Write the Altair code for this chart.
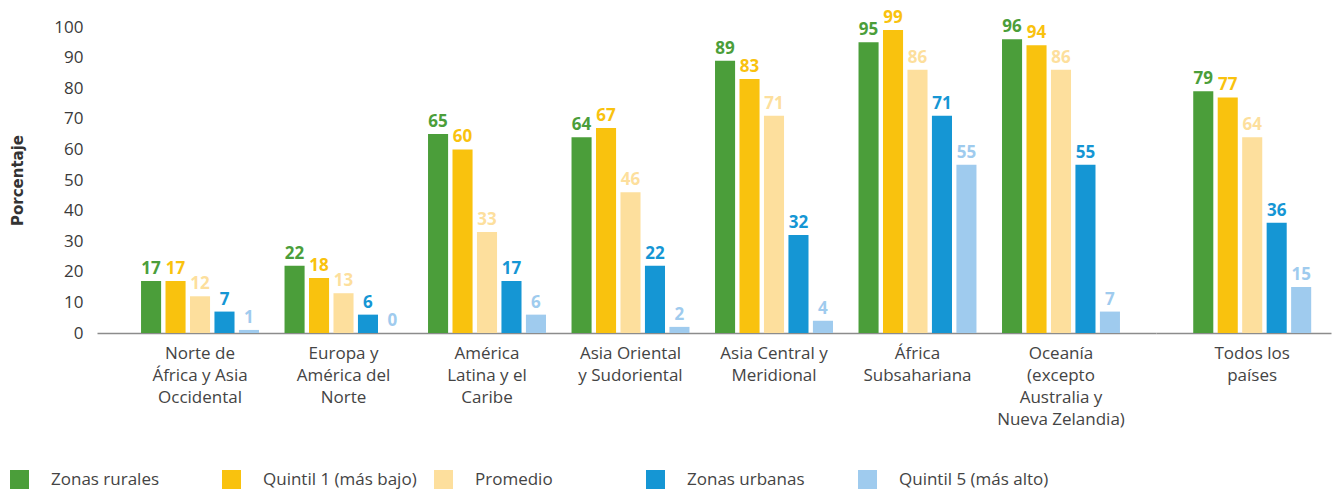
import altair as alt
import pandas as pd

# ---- data -------------------------------------------------------------
categories = [
    "Norte de\nÁfrica y Asia\nOccidental",
    "Europa y\nAmérica del\nNorte",
    "América\nLatina y el\nCaribe",
    "Asia Oriental\ny Sudoriental",
    "Asia Central y\nMeridional",
    "África\nSubsahariana",
    "Oceanía\n(excepto\nAustralia y\nNueva Zelandia)",
    "Todos los\npaíses",
]
series = ["Zonas rurales", "Quintil 1 (más bajo)", "Promedio",
          "Zonas urbanas", "Quintil 5 (más alto)"]
zonas_rurales = [17, 22, 65, 64, 89, 95, 96, 79]
quintil_1 = [17, 18, 60, 67, 83, 99, 94, 77]
promedio = [12, 13, 33, 46, 71, 86, 86, 64]
zonas_urbanas = [7, 6, 17, 22, 32, 71, 55, 36]
quintil_5 = [1, 0, 6, 2, 4, 55, 7, 15]
y_ticks = [0, 10, 20, 30, 40, 50, 60, 70, 80, 90, 100]

colors = ["#4b9e3a", "#f9c20e", "#fddf9d", "#1596d4", "#9fcbee"]
FONT = "Open Sans"
TITLE_FONT = "DejaVu Sans"

values = [zonas_rurales, quintil_1, promedio, zonas_urbanas, quintil_5]
rows = []
for ci, cat in enumerate(categories):
    for si, s in enumerate(series):
        rows.append({"region": cat, "serie": s, "valor": values[si][ci]})
df = pd.DataFrame(rows)

main_cats = categories[:-1]
total_cats = categories[-1:]

PLOT_H = 306


def panel(cats, width, pad_outer, align, show_y):
    data = df[df["region"].isin(cats)]
    base = alt.Chart(data)
    x = alt.X(
        "region:N",
        sort=cats,
        scale=alt.Scale(domain=cats, paddingInner=0.178,
                        paddingOuter=pad_outer, align=align),
        axis=alt.Axis(
            title=None, labelAngle=0, ticks=False,
            labelExpr="split(datum.label, '\\n')",
            labelFont=FONT, labelFontSize=17, labelColor="#444444",
            labelLineHeight=22, labelPadding=12, labelLimit=300,
            labelOverlap=False, labelBaseline="top",
            domainColor="#8c8c8c", domainWidth=1.5,
        ),
    )
    xo = alt.XOffset("serie:N", sort=series,
                     scale=alt.Scale(domain=series, paddingInner=0.18,
                                     paddingOuter=0))
    if show_y:
        yaxis = alt.Axis(
            title="Porcentaje", values=y_ticks, ticks=False, domain=False,
            grid=False, labelFont=FONT, labelFontSize=17,
            labelColor="#3a3a3a", labelPadding=14,
            titleFont=TITLE_FONT, titleFontSize=15, titleFontWeight="bold",
            titleColor="#333333", titlePadding=28,
        )
    else:
        yaxis = None
    y = alt.Y("valor:Q", scale=alt.Scale(domain=[0, 100], nice=False),
              axis=yaxis)
    color_scale = alt.Scale(domain=series, range=colors)
    bars = base.mark_bar().encode(
        x=x, xOffset=xo, y=y,
        color=alt.Color(
            "serie:N", sort=series, scale=color_scale,
            legend=alt.Legend(
                title=None, orient="none", legendX=-87, legendY=443,
                direction="horizontal", columns=5, gridAlign="all",
                symbolType="square", symbolSize=361, symbolStrokeWidth=0,
                symbolOpacity=1, labelFont=FONT, labelFontSize=17,
                labelColor="#444444", labelOffset=22, columnPadding=17,
                labelLimit=300,
            ),
        ),
    )
    labels = base.mark_text(
        baseline="alphabetic", dy=-7, fontWeight="bold", fontSize=17,
        font=FONT,
    ).encode(
        x=x, xOffset=xo, y=y,
        color=alt.Color("serie:N", sort=series, scale=color_scale,
                        legend=None),
        text=alt.Text("valor:Q", format="d"),
    )
    return (bars + labels).properties(width=width, height=PLOT_H)


left = panel(main_cats, 1059, 0.279, 0.55, True)
right = panel(total_cats, 175, 0.2, 0.65, False)

chart = alt.hconcat(left, right, spacing=0).configure_view(
    stroke=None
).properties(
    background="white",
    padding={"left": 2, "top": 1, "right": 5, "bottom": 0},
)

chart.save("out.html", embed_options={"renderer": "svg", "actions": False})
